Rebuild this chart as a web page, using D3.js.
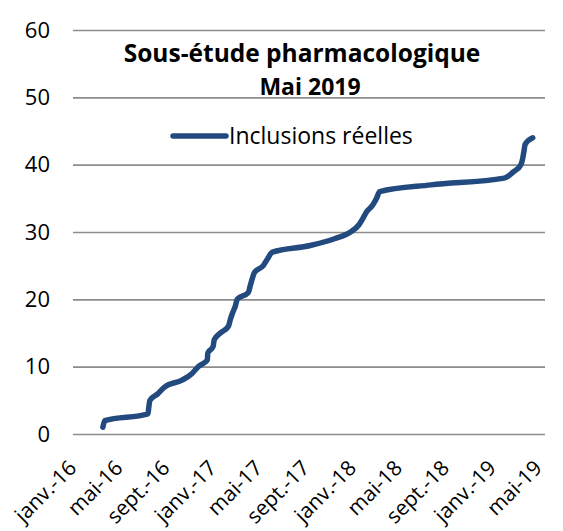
<!DOCTYPE html>
<html>
<head>
<meta charset="utf-8">
<script src="https://cdn.jsdelivr.net/npm/d3@7"></script>
<style>
  html, body { margin: 0; padding: 0; background: #ffffff; }
  svg { display: block; }
</style>
</head>
<body>
<svg id="chart" width="563" height="531"></svg>
<script>
// ---- Data ----
const title = ["Sous-étude pharmacologique", "Mai 2019"];
const seriesName = "Inclusions réelles";

const dates = [
  "2016-03-19", "2016-03-24", "2016-07-15", "2016-07-17", "2016-07-20",
  "2016-08-10", "2016-08-28", "2016-10-12", "2016-11-07", "2016-11-23",
  "2016-12-17", "2016-12-18", "2017-01-01", "2017-01-04", "2017-01-20",
  "2017-02-10", "2017-02-15", "2017-02-21", "2017-02-28", "2017-03-05",
  "2017-04-03", "2017-04-08", "2017-04-13", "2017-04-19", "2017-05-12",
  "2017-05-23", "2017-06-05", "2017-09-12", "2017-11-14", "2017-12-26",
  "2018-01-16", "2018-01-27", "2018-02-06", "2018-02-22", "2018-03-04",
  "2018-03-12", "2018-07-24", "2019-01-31", "2019-02-26", "2019-03-16",
  "2019-03-21", "2019-03-24", "2019-03-27", "2019-04-16"
];
const inclusions = [
  1, 2, 3, 4, 5,
  6, 7, 8, 9, 10,
  11, 12, 13, 14, 15,
  16, 17, 18, 19, 20,
  21, 22, 23, 24, 25,
  26, 27, 28, 29, 30,
  31, 32, 33, 34, 35,
  36, 37, 38, 39, 40,
  41, 42, 43, 44
];

const xTickDates = [
  "2016-01-01", "2016-05-01", "2016-09-01", "2017-01-01", "2017-05-01", "2017-09-01",
  "2018-01-01", "2018-05-01", "2018-09-01", "2019-01-01", "2019-05-01"
];
const xTickLabels = [
  "janv.-16", "mai-16", "sept.-16", "janv.-17", "mai-17", "sept.-17",
  "janv.-18", "mai-18", "sept.-18", "janv.-19", "mai-19"
];
const yTicks = [0, 10, 20, 30, 40, 50, 60];

// ---- Layout ----
const svg = d3.select("#chart");
const FONT = "'Open Sans', 'DejaVu Sans', sans-serif";
const plot = { left: 73, right: 545, top: 30, bottom: 434 };
const parse = d3.utcParse("%Y-%m-%d");

const x = d3.scaleUtc()
  .domain([parse("2016-01-01"), parse("2019-05-18")])
  .range([plot.left, plot.right]);
const y = d3.scaleLinear()
  .domain([0, 60])
  .range([plot.bottom, plot.top]);

// gridlines
const yAxis = d3.axisLeft(y)
  .tickValues(yTicks)
  .tickSize(-(plot.right - plot.left))
  .tickPadding(23)
  .tickFormat(d3.format("d"));
const gy = svg.append("g")
  .attr("transform", `translate(${plot.left},0)`)
  .call(yAxis);
gy.select(".domain").remove();
gy.selectAll(".tick line").attr("stroke", "#8c8c8c").attr("stroke-width", 1.6);
gy.selectAll(".tick text")
  .attr("font-family", FONT)
  .attr("font-size", 22)
  .attr("fill", "#000");

// x axis labels
const xAxis = d3.axisBottom(x)
  .tickValues(xTickDates.map(parse))
  .tickSize(0)
  .tickPadding(0)
  .tickFormat((d, i) => xTickLabels[i]);
const gx = svg.append("g")
  .attr("transform", `translate(0,${plot.bottom})`)
  .call(xAxis);
gx.select(".domain").remove();
gx.selectAll(".tick text")
  .attr("font-family", FONT)
  .attr("font-size", 21)
  .attr("fill", "#000")
  .attr("text-anchor", "end")
  .attr("dy", "0.35em")
  .attr("transform", "translate(-1,30) rotate(-45)")
  .attr("y", 0);

// line
const data = dates.map((d, i) => ({ date: parse(d), value: inclusions[i] }));
const line = d3.line()
  .x(d => x(d.date))
  .y(d => y(d.value))
  .curve(d3.curveMonotoneX);
svg.append("path")
  .datum(data)
  .attr("fill", "none")
  .attr("stroke", "#224a7e")
  .attr("stroke-width", 5.5)
  .attr("stroke-linecap", "round")
  .attr("stroke-linejoin", "round")
  .attr("d", line);

// title
svg.append("text")
  .attr("font-family", FONT)
  .attr("font-weight", "bold")
  .attr("font-size", 24.5)
  .attr("text-anchor", "middle")
  .attr("x", 302)
  .attr("y", 62)
  .text(title[0]);
svg.append("text")
  .attr("font-family", FONT)
  .attr("font-weight", "bold")
  .attr("font-size", 23)
  .attr("text-anchor", "middle")
  .attr("x", 310)
  .attr("y", 95)
  .text(title[1]);

// legend
svg.append("line")
  .attr("x1", 173).attr("x2", 226)
  .attr("y1", 136).attr("y2", 136)
  .attr("stroke", "#224a7e")
  .attr("stroke-width", 5.5)
  .attr("stroke-linecap", "round");
svg.append("text")
  .attr("font-family", FONT)
  .attr("font-size", 23)
  .attr("x", 229)
  .attr("y", 144)
  .text(seriesName);
</script>
</body>
</html>
